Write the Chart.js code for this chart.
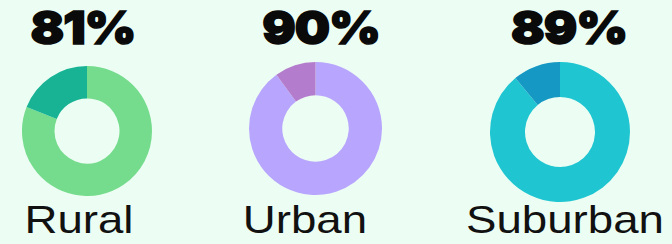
<!DOCTYPE html>
<html>
<head>
<meta charset="utf-8">
<script src="https://cdn.jsdelivr.net/npm/chart.js@4"></script>
<style>
  html, body { margin: 0; padding: 0; }
  body { width: 672px; height: 244px; background: #ecfdf3; position: relative; overflow: hidden; }
  .pct, .lbl { position: absolute; width: 240px; text-align: center; white-space: nowrap; color: #0a0a0a; transform-origin: center; }
  .pct { font-family: Inter, Roboto, sans-serif; font-weight: 900; font-size: 46px; line-height: 46px; top: 4px; transform: scaleX(1.08); -webkit-text-stroke: 1.5px #0a0a0a; letter-spacing: -1px; }
  .lbl { font-family: "Liberation Sans", Arial, sans-serif; font-size: 39px; line-height: 39px; top: 200px; color: #111; transform: scaleX(1.17); }
  canvas { position: absolute; }
</style>
</head>
<body>
<script>
// --- Datos ---
const categories = ['Rural', 'Urban', 'Suburban'];
const percents = [81, 90, 89];
const mainColors = ['#74dc8c', '#b8a5fd', '#1fc6d1'];
const restColors = ['#17b394', '#b47ccc', '#1598c4'];

// posiciones de cada grupo (centro del donut, radio, centro de textos)
const layout = [
  { cx: 86.7, cy: 131.3, r: 65, pctX: 82.5, lblX: 79 },
  { cx: 315.7, cy: 128.3, r: 66.7, pctX: 320.5, lblX: 304.5 },
  { cx: 559.7, cy: 131.7, r: 70, pctX: 569, lblX: 565 }
];

categories.forEach((cat, i) => {
  const L = layout[i];

  const pct = document.createElement('div');
  pct.className = 'pct';
  pct.style.left = (L.pctX - 120) + 'px';
  pct.textContent = percents[i] + '%';
  document.body.appendChild(pct);

  const lbl = document.createElement('div');
  lbl.className = 'lbl';
  lbl.style.left = (L.lblX - 120) + 'px';
  lbl.textContent = cat;
  document.body.appendChild(lbl);

  const size = L.r * 2;
  const cv = document.createElement('canvas');
  cv.style.left = (L.cx - L.r) + 'px';
  cv.style.top = (L.cy - L.r) + 'px';
  cv.style.width = size + 'px';
  cv.style.height = size + 'px';
  cv.width = size;
  cv.height = size;
  document.body.appendChild(cv);

  new Chart(cv.getContext('2d'), {
    type: 'doughnut',
    data: {
      labels: [cat, 'Other'],
      datasets: [{
        data: [percents[i], 100 - percents[i]],
        backgroundColor: [mainColors[i], restColors[i]],
        borderWidth: 0
      }]
    },
    options: {
      responsive: false,
      animation: false,
      cutout: '50%',
      layout: { padding: 0 },
      plugins: { legend: { display: false }, tooltip: { enabled: false } }
    }
  });
});
</script>
</body>
</html>
